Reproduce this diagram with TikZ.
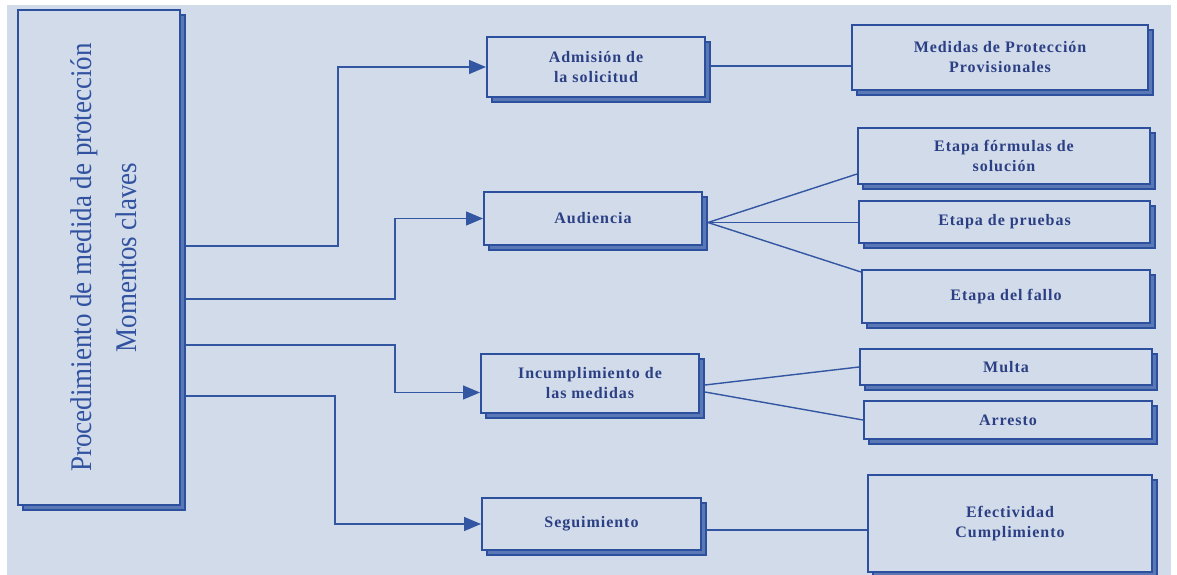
\documentclass[tikz,border=0pt]{standalone}
\usepackage{graphicx}
\usepackage{fontspec}
\setmainfont{Liberation Serif}
\newfontfamily\boxfont[LetterSpace=6]{Liberation Serif}
\usepackage{tikz}
\usetikzlibrary{positioning,shadows,arrows.meta}
\definecolor{bgblue}{HTML}{D2DBE9}
\definecolor{boxblue}{HTML}{2C4F9E}
\definecolor{shadblue}{HTML}{5A77B6}
\definecolor{lineblue}{HTML}{3356A2}
\definecolor{txtblue}{HTML}{2B3F84}
\definecolor{lblblue}{HTML}{3052A0}

\begin{document}
\begin{tikzpicture}[x=1pt,y=-1pt,
    box/.style={draw=boxblue,line width=2pt,fill=bgblue,text=txtblue,align=center,inner sep=0pt,
      font=\boxfont\fontsize{16}{20}\selectfont\bfseries,
      copy shadow={shadow xshift=5pt,shadow yshift=-5pt,draw=boxblue,fill=shadblue,line width=1.2pt}},
    link/.style={draw=lineblue,line width=1.4pt},
    arr/.style={link,-{Triangle[length=17pt,width=14pt]}}]
    \fill[white] (0,0) rectangle (1177,575);
    \fill[bgblue] (7,5) rectangle (1171,575);

    \node[box,minimum width=162,minimum height=495,text=lblblue,font=\fontsize{30}{45}\selectfont] (main) at (99,257.5)
      {\rotatebox{90}{\raisebox{-6pt}[\height][\depth]{\scalebox{0.9}[1]{\begin{tabular}{@{}c@{}}Procedimiento de medida de protección\\Momentos claves\end{tabular}}}}};

    \node[box,minimum width=218,minimum height=60] (adm) at (596,67) {Admisión de\\la solicitud};
    \node[box,minimum width=218,minimum height=53] (aud) at (593,218.5) {Audiencia};
    \node[box,minimum width=218,minimum height=59] (inc) at (590,383.5) {Incumplimiento de\\las medidas};
    \node[box,minimum width=219,minimum height=52] (seg) at (591.5,524) {Seguimiento};

    \node[box,minimum width=296,minimum height=65] (med) at (1000,57.5) {Medidas de Protección\\Provisionales};
    \node[box,minimum width=292,minimum height=56] (form) at (1004,156) {Etapa fórmulas de\\solución};
    \node[box,minimum width=291,minimum height=42] (prue) at (1004.5,222) {Etapa de pruebas};
    \node[box,minimum width=288,minimum height=53] (fallo) at (1006,296.5) {Etapa del fallo};
    \node[box,minimum width=292,minimum height=36] (multa) at (1006,367) {Multa};
    \node[box,minimum width=288,minimum height=38] (arresto) at (1008,420) {Arresto};
    \node[box,minimum width=284,minimum height=97] (efect) at (1010,523.5) {Efectividad\\Cumplimiento};

    \coordinate (b1) at (338,246);
    \coordinate (b2) at (395,299);
    \coordinate (b3) at (395,345);
    \coordinate (b4) at (335,396);
    \draw[arr] ([xshift=5pt]main.east |- b1) -- (b1) |- (adm.west);
    \draw[arr] ([xshift=5pt]main.east |- b2) -- (b2) |- (aud.west);
    \draw[arr] ([xshift=5pt]main.east |- b3) -- (b3) |- ([yshift=-9pt]inc.west);
    \draw[arr] ([xshift=5pt]main.east |- b4) -- (b4) |- (seg.west);

    \draw[link] ([xshift=5pt,yshift=1pt]adm.east) -- ([yshift=1pt]adm.east -| med.west);
    \draw[link] ([xshift=5pt,yshift=-4pt]aud.east) -- ([yshift=11pt]form.south west);
    \draw[link] ([xshift=5pt,yshift=-4pt]aud.east) -- ([yshift=-4pt]aud.east -| prue.west);
    \draw[link] ([xshift=5pt,yshift=-4pt]aud.east) -- ([yshift=-3pt]fallo.north west);
    \draw[link] ([xshift=5pt,yshift=-1.5pt]inc.east) -- (multa.west);
    \draw[link] ([xshift=5pt,yshift=-8.5pt]inc.east) -- (arresto.west);
    \draw[link] ([xshift=5pt,yshift=-6pt]seg.east) -- ([yshift=-6pt]seg.east -| efect.west);
\end{tikzpicture}
\end{document}
